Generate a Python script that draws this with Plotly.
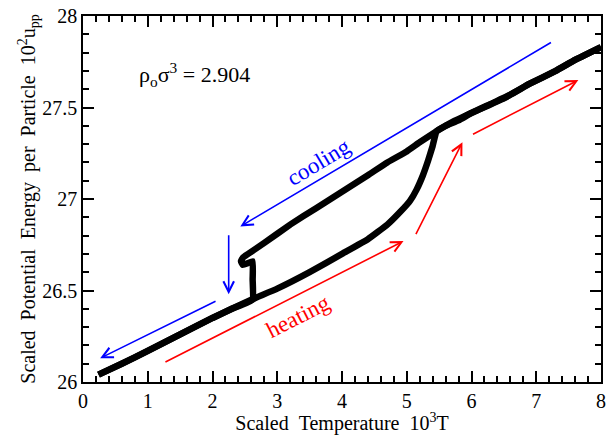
import plotly.graph_objects as go

# Heating run: crystal branch, melting rise, then the liquid branch
heat_T = [0.24, 0.6, 1.0, 1.5, 2.0, 2.6, 3.0, 3.5, 4.0, 4.4, 4.7, 4.9, 5.05,
          5.15, 5.25, 5.33, 5.40, 5.46, 5.6, 5.8, 6.0, 6.3, 6.6, 6.9, 7.3, 7.6, 8.0]
heat_U = [26.04, 26.10, 26.17, 26.26, 26.35, 26.45, 26.51, 26.60, 26.70, 26.78,
          26.86, 26.93, 26.99, 27.05, 27.13, 27.21, 27.29, 27.37, 27.40, 27.43,
          27.47, 27.52, 27.57, 27.63, 27.70, 27.76, 27.83]

# Cooling run: liquid branch, supercooled branch, freezing drop, crystal branch
cool_T = [8.0, 7.6, 7.3, 6.9, 6.5, 6.0, 5.7, 5.46, 5.2, 5.0, 4.7, 4.4, 4.0, 3.6,
          3.2, 2.8, 2.55, 2.47, 2.44, 2.47, 2.55, 2.62, 2.62, 2.62, 2.3, 2.0,
          1.5, 1.0, 0.6, 0.24]
cool_U = [27.83, 27.76, 27.70, 27.63, 27.55, 27.47, 27.42, 27.37, 27.31, 27.26,
          27.20, 27.13, 27.04, 26.95, 26.86, 26.76, 26.70, 26.68, 26.66, 26.64,
          26.65, 26.66, 26.56, 26.45, 26.40, 26.35, 26.26, 26.17, 26.10, 26.04]

# Direction arrows: (tail T, tail U, head T, head U)
cool_arrows = [(7.25, 27.86, 2.43, 26.85),
               (2.25, 26.81, 2.25, 26.48),
               (2.07, 26.445, 0.265, 26.13)]
heat_arrows = [(1.25, 26.105, 4.95, 26.77),
               (5.13, 26.80, 5.86, 27.31),
               (6.00, 27.35, 7.65, 27.65)]

# Axis ranges and tick spacing
T_RANGE = [0, 8]
U_RANGE = [26, 28]
T_MAJOR, T_MINOR = 1.0, 0.2
U_MAJOR, U_MINOR = 0.5, 0.1

BLUE = "#0000ff"
RED = "#ff0000"
SERIF = "Liberation Serif"
SP = "\u00a0\u00a0"

fig = go.Figure()
for T, U in ((heat_T, heat_U), (cool_T, cool_U)):
    fig.add_trace(go.Scatter(x=T, y=U, mode="lines",
                             line=dict(color="black", width=6.5, shape="spline", smoothing=0.3),
                             showlegend=False, hoverinfo="skip"))

annotations = []
for arrows, color in ((cool_arrows, BLUE), (heat_arrows, RED)):
    for x0, y0, x1, y1 in arrows:
        annotations.append(dict(x=x1, y=y1, ax=x0, ay=y0, xref="x", yref="y",
                                axref="x", ayref="y", text="", showarrow=True,
                                arrowhead=5, arrowsize=1.3, arrowwidth=1.6,
                                arrowcolor=color))

annotations += [
    dict(x=3.63, y=27.20, xref="x", yref="y", text="cooling", showarrow=False,
         textangle=-31, font=dict(family=SERIF, size=23, color=BLUE)),
    dict(x=3.32, y=26.36, xref="x", yref="y", text="heating", showarrow=False,
         textangle=-27, font=dict(family=SERIF, size=23, color=RED)),
    dict(x=1.72, y=27.68, xref="x", yref="y",
         text="\u03c1<sub>o</sub>\u03c3<sup>3</sup> = 2.904", showarrow=False,
         font=dict(family=SERIF, size=22, color="black")),
]

# Frame on all four sides with inward major and minor ticks mirrored
axis_common = dict(showline=True, linecolor="black", linewidth=1.5, mirror="ticks",
                   ticks="inside", ticklen=11, tickwidth=2, tickcolor="black",
                   showgrid=False, zeroline=False,
                   tickfont=dict(family=SERIF, size=20, color="black"))

fig.update_layout(
    width=611, height=435,
    margin=dict(l=83, r=5, t=16, b=52),
    paper_bgcolor="white", plot_bgcolor="white",
    annotations=annotations,
    xaxis=dict(range=T_RANGE, dtick=T_MAJOR, tick0=T_RANGE[0],
               minor=dict(ticks="inside", ticklen=6, dtick=T_MINOR, tickwidth=1.6,
                          tickcolor="black", showgrid=False),
               title=dict(text=f"Scaled{SP}Temperature{SP}10<sup>3</sup>T",
                          font=dict(family=SERIF, size=20, color="black"), standoff=4),
               **axis_common),
    yaxis=dict(range=U_RANGE, dtick=U_MAJOR, tick0=U_RANGE[0],
               minor=dict(ticks="inside", ticklen=6, dtick=U_MINOR, tickwidth=1.6,
                          tickcolor="black", showgrid=False),
               title=dict(text=f"Scaled{SP}Potential{SP}Energy{SP}per{SP}Particle{SP}10<sup>2</sup>u<sub>pp</sub>",
                          font=dict(family=SERIF, size=20, color="black"), standoff=0),
               **axis_common),
)

fig.write_html("out.html")
